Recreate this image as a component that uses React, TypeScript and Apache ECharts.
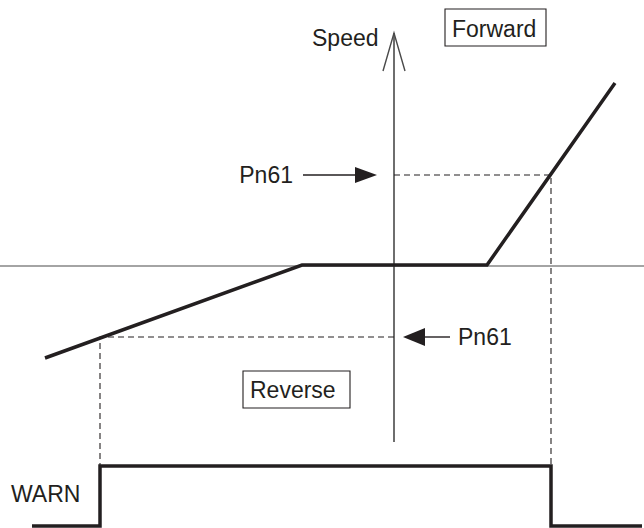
import React, { useEffect, useRef } from "react";
import * as echarts from "echarts";

// Diagram coordinate space (x: time-like position, y: level, top = 0)
const speedX = [45, 302, 487, 615];
const speedY = [358, 265, 265, 83];

const warnX = [32, 100, 100, 551, 551, 642];
const warnY = [526, 526, 466, 466, 526, 526];

const pn61ForwardLevel = 175;
const pn61ReverseLevel = 337;
const fwdCrossX = 551;
const revCrossX = 100;
const axisX = 394;
const axisTop = 33;
const axisBottom = 442;
const zeroLevel = 266;

const labels = {
  speed: "Speed",
  forward: "Forward",
  reverse: "Reverse",
  pn61: "Pn61",
  warn: "WARN",
};

const INK = "#231f20";
const AXIS = "#4a4a4a";
const FONT = "'Liberation Sans', Arial, Helvetica, sans-serif";

export default function App() {
  const ref = useRef<HTMLDivElement>(null);
  useEffect(() => {
    document.body.style.margin = "0";
    const chart = echarts.init(ref.current!, null, { renderer: "svg" });
    const line = (data: number[][], color: string, width: number, type: any = "solid", z = 2) => ({
      type: "line",
      data,
      symbol: "none",
      silent: true,
      z,
      lineStyle: { color, width, type, cap: "butt", join: "miter" },
    });
    chart.setOption({
      animation: false,
      grid: { left: 0, right: 0, top: 0, bottom: 0 },
      xAxis: { type: "value", min: 0, max: 644, show: false },
      yAxis: { type: "value", min: 0, max: 528, inverse: true, show: false },
      series: [
        line([[0, zeroLevel], [644, zeroLevel]], AXIS, 1.2),
        line([[axisX, axisBottom], [axisX, axisTop]], AXIS, 1.6),
        line(
          [[axisX, pn61ForwardLevel], [fwdCrossX, pn61ForwardLevel], [fwdCrossX, warnY[2]]],
          INK, 1.1, [6, 4]
        ),
        line(
          [[axisX, pn61ReverseLevel], [revCrossX, pn61ReverseLevel], [revCrossX, warnY[2]]],
          INK, 1.1, [6, 4]
        ),
        line(speedX.map((x, i) => [x, speedY[i]]), INK, 3.5, "solid", 5),
        line(warnX.map((x, i) => [x, warnY[i]]), INK, 3.5, "solid", 5),
      ],
    });
    const p = (x: number, y: number) => chart.convertToPixel({ gridIndex: 0 }, [x, y]) as number[];
    const txt = (x: number, y: number, text: string, align: string) => ({
      type: "text",
      x,
      y,
      style: { text, fill: INK, font: `23px ${FONT}`, align, verticalAlign: "middle" },
    });
    const tip = p(axisX, axisTop);
    const armL = p(axisX - 11, axisTop + 38);
    const armR = p(axisX + 11, axisTop + 38);
    const f1 = p(303, pn61ForwardLevel);
    const f2 = p(356, pn61ForwardLevel);
    const fTip = p(377, pn61ForwardLevel);
    const r1 = p(450, pn61ReverseLevel);
    const r2 = p(424, pn61ReverseLevel);
    const rTip = p(403, pn61ReverseLevel);
    chart.setOption({
      graphic: [
        { type: "polyline", shape: { points: [armL, tip, armR] }, style: { stroke: AXIS, lineWidth: 1.4, fill: null } },
        txt(p(312, 0)[0], p(0, 38)[1], labels.speed, "left"),
        { type: "rect", shape: { x: p(445, 0)[0], y: p(0, 9)[1], width: 101, height: 37 }, style: { fill: "#fff", stroke: INK, lineWidth: 1.1 } },
        txt(p(452, 0)[0], p(0, 29)[1], labels.forward, "left"),
        { type: "rect", shape: { x: p(243, 0)[0], y: p(0, 371)[1], width: 107, height: 37 }, style: { fill: "#fff", stroke: INK, lineWidth: 1.1 } },
        txt(p(250, 0)[0], p(0, 390)[1], labels.reverse, "left"),
        { type: "line", shape: { x1: f1[0], y1: f1[1], x2: f2[0], y2: f2[1] }, style: { stroke: INK, lineWidth: 1.4 } },
        { type: "polygon", shape: { points: [[f2[0] - 1, f2[1] - 8], fTip, [f2[0] - 1, f2[1] + 8]] }, style: { fill: INK } },
        txt(p(293, 0)[0], f1[1], labels.pn61, "right"),
        { type: "line", shape: { x1: r1[0], y1: r1[1], x2: r2[0], y2: r2[1] }, style: { stroke: INK, lineWidth: 1.4 } },
        { type: "polygon", shape: { points: [[r2[0] + 1, r2[1] - 9], rTip, [r2[0] + 1, r2[1] + 9]] }, style: { fill: INK } },
        txt(p(458, 0)[0], r1[1], labels.pn61, "left"),
        txt(p(11, 0)[0], p(0, 494)[1], labels.warn, "left"),
      ],
    });
    return () => chart.dispose();
  }, []);
  return <div ref={ref} style={{ width: 644, height: 528, background: "#fff" }} />;
}
